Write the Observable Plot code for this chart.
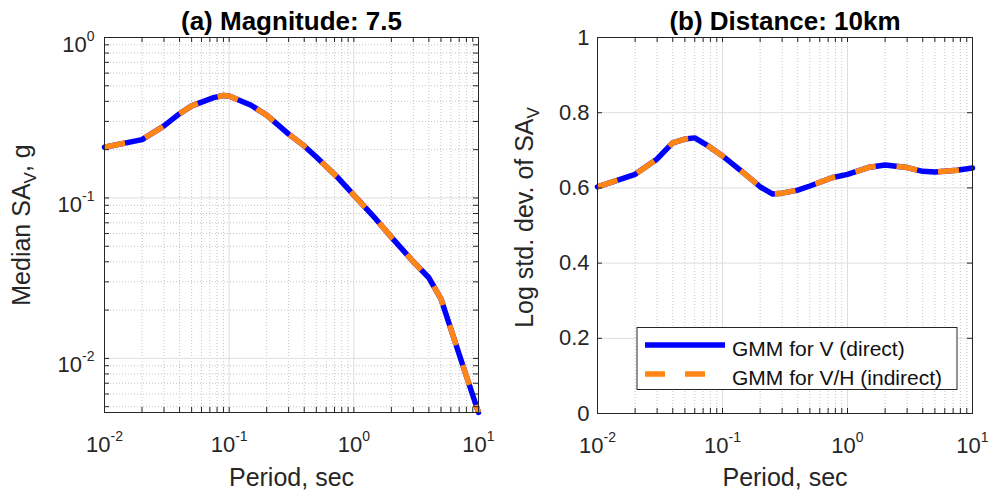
<!DOCTYPE html>
<html><head><meta charset="utf-8">
<script src="https://cdn.jsdelivr.net/npm/d3@7"></script>
<script src="https://cdn.jsdelivr.net/npm/@observablehq/plot@0.6"></script>
<style>
body{margin:0;background:#fff;}
#wrap{display:flex;width:990px;height:493px;position:relative;}
#wrap svg{display:block;}
</style></head><body><div id="wrap"></div>
<script>
// ---------- data ----------
const periodsA = [0.01,0.02,0.03,0.04,0.05,0.075,0.09,0.1,0.15,0.2,0.3,0.4,0.5,0.75,1,1.5,2,3,4,5,7.5,10];
const medianV  = [0.207,0.231,0.281,0.335,0.375,0.422,0.435,0.432,0.378,0.328,0.25,0.211,0.18,0.133,0.104,0.074,0.057,0.040,0.0318,0.0235,0.0090,0.0046];
const medianVH = [0.207,0.231,0.281,0.335,0.375,0.422,0.435,0.432,0.378,0.328,0.25,0.211,0.18,0.133,0.104,0.074,0.057,0.040,0.0318,0.0235,0.0090,0.0046];

const periodsB = [0.01,0.02,0.03,0.04,0.05,0.06,0.075,0.1,0.15,0.2,0.25,0.3,0.4,0.5,0.75,1,1.5,2,3,4,5,7.5,10];
const sigmaV   = [0.603,0.636,0.677,0.72,0.73,0.733,0.714,0.685,0.638,0.603,0.584,0.586,0.594,0.605,0.627,0.636,0.655,0.661,0.654,0.644,0.642,0.647,0.653];
const sigmaVH  = [0.603,0.636,0.677,0.72,0.73,0.733,0.714,0.685,0.638,0.603,0.584,0.586,0.594,0.605,0.627,0.636,0.655,0.661,0.654,0.644,0.642,0.647,0.653];

const xMajorTicks = [0.01,0.1,1,10];
const xTickLabels = ["10^-2","10^-1","10^0","10^1"];
const yMajorTicksA = [0.01,0.1,1];
const yTickLabelsA = ["10^-2","10^-1","10^0"];
const yTicksB = [0,0.2,0.4,0.6,0.8,1];
const yTickLabelsB = ["0","0.2","0.4","0.6","0.8","1"];
const titleA = "(a) Magnitude: 7.5";
const titleB = "(b) Distance: 10km";
const yLabelA = "Median SA_V, g";
const yLabelB = "Log std. dev. of SA_V";
const xLabel = "Period, sec";
const seriesNames = ["GMM for V (direct)","GMM for V/H (indirect)"];
const seriesColors = ["#0000ff","#ff8515"];

// ---------- helpers ----------
const FONT = "'Liberation Sans', Arial, Helvetica, sans-serif";
const INK = "#262626";
const minorOf = (decades, lo, hi) => decades.flatMap(d => [2,3,4,5,6,7,8,9].map(k => k*d)).filter(v => v > lo && v < hi);
const xMinor = minorOf([0.01,0.1,1], 0.01, 10);
const xAll = xMajorTicks.concat(xMinor);

const tableA = periodsA.map((T,i) => ({T, v: medianV[i], vh: medianVH[i]}));
const tableB = periodsB.map((T,i) => ({T, v: sigmaV[i], vh: sigmaVH[i]}));

function gridMarks(yMajor, yMinor) {
  const marks = [
    Plot.gridX(xMinor, {stroke:"#c4c4c4", strokeOpacity:1, strokeDasharray:"1,2"}),
    Plot.gridX(xMajorTicks, {stroke:"#dedede", strokeOpacity:1}),
  ];
  if (yMinor.length) marks.push(Plot.gridY(yMinor, {stroke:"#c4c4c4", strokeOpacity:1, strokeDasharray:"1,2"}));
  marks.push(Plot.gridY(yMajor, {stroke:"#dedede", strokeOpacity:1}));
  return marks;
}
function edgeTicks(W, H, yAll) {
  return [
    Plot.tickX(xAll, {x: d => d, insetTop: H - 5, stroke: INK, strokeWidth: 1}),
    Plot.tickX(xAll, {x: d => d, insetBottom: H - 5, stroke: INK, strokeWidth: 1}),
    Plot.tickY(yAll, {y: d => d, insetRight: W - 5, stroke: INK, strokeWidth: 1}),
    Plot.tickY(yAll, {y: d => d, insetLeft: W - 5, stroke: INK, strokeWidth: 1}),
  ];
}
function seriesLines(data) {
  return [
    Plot.line(data, {x:"T", y:"v", stroke: seriesColors[0], strokeWidth:5.5}),
    Plot.line(data, {x:"T", y:"vh", stroke: seriesColors[1], strokeWidth:5.5, strokeDasharray:"21,21", strokeLinecap:"butt"}),
  ];
}
const xAxis = () => Plot.axisX(xMajorTicks, {anchor:"bottom", tickSize:0, tickPadding:24, fontSize:22, label:null,
  tickFormat: d => xTickLabels[xMajorTicks.indexOf(d)]});
const labels = (title, ylab, dyX, dxY, dyY) => [
  Plot.text([title], {frameAnchor:"top", textAnchor:"middle", lineAnchor:"middle", dy:-16, fontSize:26, fontWeight:"bold", fill:"#000"}),
  Plot.text([xLabel], {frameAnchor:"bottom", textAnchor:"middle", lineAnchor:"middle", dy:dyX, fontSize:25, fill:INK}),
  Plot.text([ylab], {frameAnchor:"left", textAnchor:"middle", lineAnchor:"middle", rotate:-90, dx:dxY, dy:dyY, fontSize:25, fill:INK}),
];

// ---------- panel (a) ----------
const mA = {left:104, right:17, top:37, bottom:81};
const WA = 495 - mA.left - mA.right, HA = 493 - mA.top - mA.bottom;
const yMinorA = minorOf([0.001,0.01,0.1], 0.0046, 1);
const plotA = Plot.plot({
  width:495, height:493,
  marginLeft:mA.left, marginRight:mA.right, marginTop:mA.top, marginBottom:mA.bottom,
  style:{fontFamily:FONT, fontSize:"22px", color:INK, background:"white", overflow:"visible"},
  x:{type:"log", domain:[0.01,10], label:null},
  y:{type:"log", domain:[0.0046,1], label:null},
  marks:[
    ...gridMarks(yMajorTicksA, yMinorA),
    ...seriesLines(tableA),
    ...edgeTicks(WA, HA, yMajorTicksA.concat(yMinorA)),
    Plot.frame({stroke:INK, strokeWidth:1}),
    xAxis(),
    Plot.axisY(yMajorTicksA, {anchor:"left", tickSize:0, tickPadding:10, dy:7, fontSize:22, label:null,
      tickFormat: d => yTickLabelsA[yMajorTicksA.indexOf(d)]}),
    ...labels(titleA, yLabelA, 65, -83, 0),
  ]
});

// ---------- panel (b) ----------
const mB = {left:102, right:18, top:37, bottom:80};
const WB = 495 - mB.left - mB.right, HB = 493 - mB.top - mB.bottom;
const plotB = Plot.plot({
  width:495, height:493,
  marginLeft:mB.left, marginRight:mB.right, marginTop:mB.top, marginBottom:mB.bottom,
  style:{fontFamily:FONT, fontSize:"22px", color:INK, background:"white", overflow:"visible"},
  x:{type:"log", domain:[0.01,10], label:null},
  y:{type:"linear", domain:[0,1], label:null},
  marks:[
    ...gridMarks(yTicksB, []),
    ...seriesLines(tableB),
    ...edgeTicks(WB, HB, yTicksB),
    Plot.frame({stroke:INK, strokeWidth:1}),
    xAxis(),
    Plot.axisY(yTicksB, {anchor:"left", tickSize:0, tickPadding:8, fontSize:22, label:null,
      tickFormat: d => yTickLabelsB[yTicksB.indexOf(d)]}),
    ...labels(titleB, yLabelB, 64, -73, -8),
  ]
});

// ---------- rich text: superscripts / subscripts ----------
const NS = "http://www.w3.org/2000/svg";
function span(txt, attrs) {
  const s = document.createElementNS(NS, "tspan");
  s.textContent = txt;
  for (const k in attrs) s.setAttribute(k, attrs[k]);
  return s;
}
function richText(svg) {
  svg.querySelectorAll("text").forEach(t => {
    if (t.querySelector("tspan")) return;
    const s = t.textContent;
    if (s.includes("^")) {
      const [base, exp] = s.split("^");
      t.textContent = "";
      t.appendChild(span(base, {}));
      t.appendChild(span(exp, {dy:"-11", "font-size":"14"}));
    } else if (s.includes("_")) {
      const i = s.indexOf("_");
      const base = s.slice(0, i), sub = s[i+1], rest = s.slice(i+2);
      t.textContent = "";
      t.appendChild(span(base, {}));
      t.appendChild(span(sub, {dy:"6", "font-size":"17"}));
      if (rest) t.appendChild(span(rest, {dy:"-6"}));
    }
  });
}
richText(plotA); richText(plotB);

// ---------- legend (panel b) ----------
const lg = d3.select(plotB).append("g").attr("font-family", FONT).attr("text-anchor", "start");
lg.append("rect").attr("x",142).attr("y",327.5).attr("width",320).attr("height",62)
  .attr("fill","white").attr("stroke",INK).attr("stroke-width",1);
lg.append("line").attr("x1",150).attr("x2",230).attr("y1",345).attr("y2",345)
  .attr("stroke",seriesColors[0]).attr("stroke-width",5.5);
lg.append("line").attr("x1",150).attr("x2",210).attr("y1",374).attr("y2",374)
  .attr("stroke",seriesColors[1]).attr("stroke-width",5.5).attr("stroke-dasharray","20,20");
lg.append("text").attr("x",237).attr("y",356).attr("font-size",21).attr("fill","#111").attr("text-anchor","start").text(seriesNames[0]);
lg.append("text").attr("x",237).attr("y",385).attr("font-size",21).attr("fill","#111").attr("text-anchor","start").text(seriesNames[1]);

document.getElementById("wrap").append(plotA, plotB);
</script>
</body></html>
